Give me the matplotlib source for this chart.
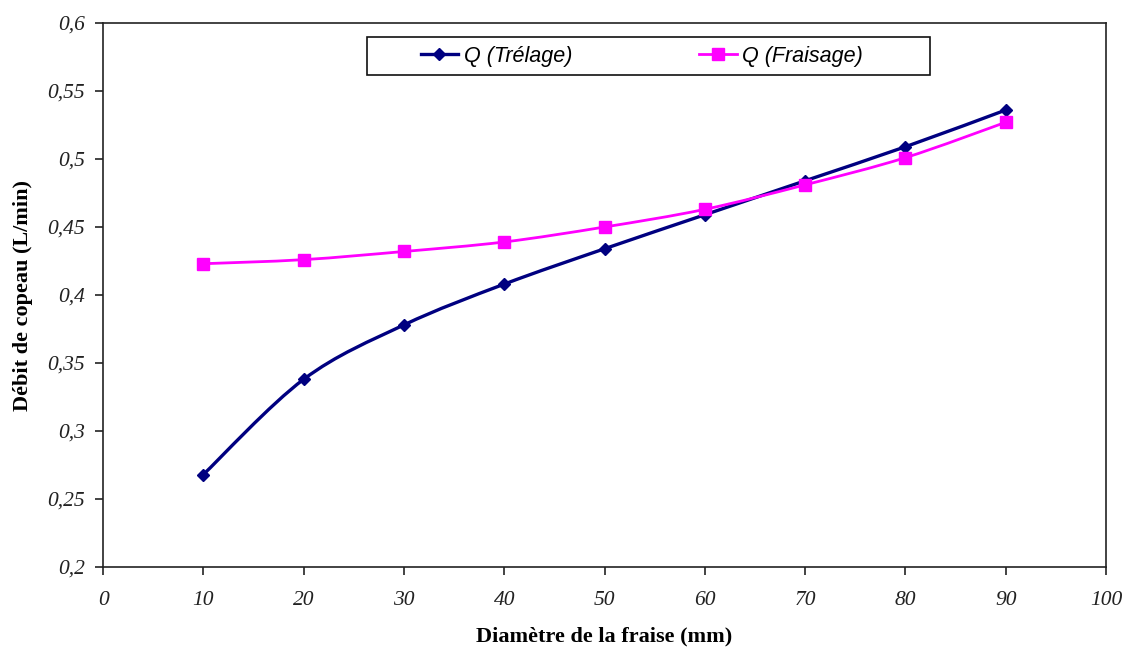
import numpy as np
import matplotlib
matplotlib.use("Agg")
import matplotlib.pyplot as plt
from matplotlib.path import Path
from matplotlib.patches import PathPatch, Rectangle
from matplotlib.lines import Line2D
from matplotlib.ticker import FuncFormatter, MultipleLocator

diametre = [10, 20, 30, 40, 50, 60, 70, 80, 90]
q_trelage = [0.268, 0.338, 0.378, 0.408, 0.434, 0.459, 0.484, 0.509, 0.536]
q_fraisage = [0.423, 0.426, 0.432, 0.439, 0.450, 0.463, 0.481, 0.501, 0.527]

NAVY = "#000080"
MAGENTA = "#FF00FF"


def smooth_path(x, y):
    """Bezier path through the points (Catmull-Rom style tangents)."""
    p = np.column_stack([x, y]).astype(float)
    n = len(p)
    verts = [p[0]]
    codes = [Path.MOVETO]
    for i in range(n - 1):
        p0 = p[i - 1] if i > 0 else p[i]
        p1 = p[i]
        p2 = p[i + 1]
        p3 = p[i + 2] if i + 2 < n else p[i + 1]
        c1 = p1 + (p2 - p0) / 6.0
        c2 = p2 - (p3 - p1) / 6.0
        verts += [c1, c2, p2]
        codes += [Path.CURVE4] * 3
    return Path(verts, codes)


fig = plt.figure(figsize=(11.25, 6.48), dpi=100)
ax = fig.add_axes([0.0916, 0.125, 0.8915, 0.8395])

ax.add_patch(PathPatch(smooth_path(diametre, q_trelage), facecolor="none",
                       edgecolor=NAVY, lw=2.4, zorder=3))
ax.plot(diametre, q_trelage, linestyle="none", marker="D", ms=6.5,
        color=NAVY, zorder=4)

ax.add_patch(PathPatch(smooth_path(diametre, q_fraisage), facecolor="none",
                       edgecolor=MAGENTA, lw=2.0, zorder=3))
ax.plot(diametre, q_fraisage, linestyle="none", marker="s", ms=8.5,
        color=MAGENTA, zorder=4)

ax.set_xlim(0, 100)
ax.set_ylim(0.2, 0.6)
ax.xaxis.set_major_locator(MultipleLocator(10))
ax.yaxis.set_major_locator(MultipleLocator(0.05))

comma = FuncFormatter(lambda v, pos: ("%g" % round(v, 4)).replace(".", ","))
ax.xaxis.set_major_formatter(comma)
ax.yaxis.set_major_formatter(comma)

for s in ax.spines.values():
    s.set_linewidth(1.2)
    s.set_color("#222222")
ax.tick_params(direction="out", length=6, width=1.2, color="#222222",
               labelsize=15.5, pad=7)
for lab in ax.get_xticklabels() + ax.get_yticklabels():
    lab.set_fontfamily("Liberation Serif")
    lab.set_fontstyle("italic")
    lab.set_color("#222222")
ax.tick_params(axis="x", pad=11)

ax.set_xlabel("Diamètre de la fraise (mm)", fontfamily="Liberation Serif",
              fontweight="bold", fontsize=16, labelpad=12)
ax.set_ylabel("Débit de copeau (L/min)", fontfamily="Liberation Serif",
              fontweight="bold", fontsize=16, labelpad=10)

# legend box
ax.add_patch(Rectangle((0.263, 0.904), 0.562, 0.070, transform=ax.transAxes,
                       facecolor="white", edgecolor="#111111", lw=1.2,
                       zorder=5))
handles = [
    Line2D([], [], color=NAVY, lw=2.4, marker="D", ms=6.5),
    Line2D([], [], color=MAGENTA, lw=2.0, marker="s", ms=8.5),
]
leg = ax.legend(handles, ["Q (Trélage)", "Q (Fraisage)"], ncol=2,
                loc="center", bbox_to_anchor=(0.537, 0.939),
                frameon=False, handlelength=1.75, handletextpad=0.25,
                columnspacing=5.9, borderpad=0.2,
                prop={"family": "Liberation Sans", "style": "italic",
                      "size": 15.5})
leg.set_zorder(6)

fig.savefig("out.png", dpi=100, facecolor="white")
